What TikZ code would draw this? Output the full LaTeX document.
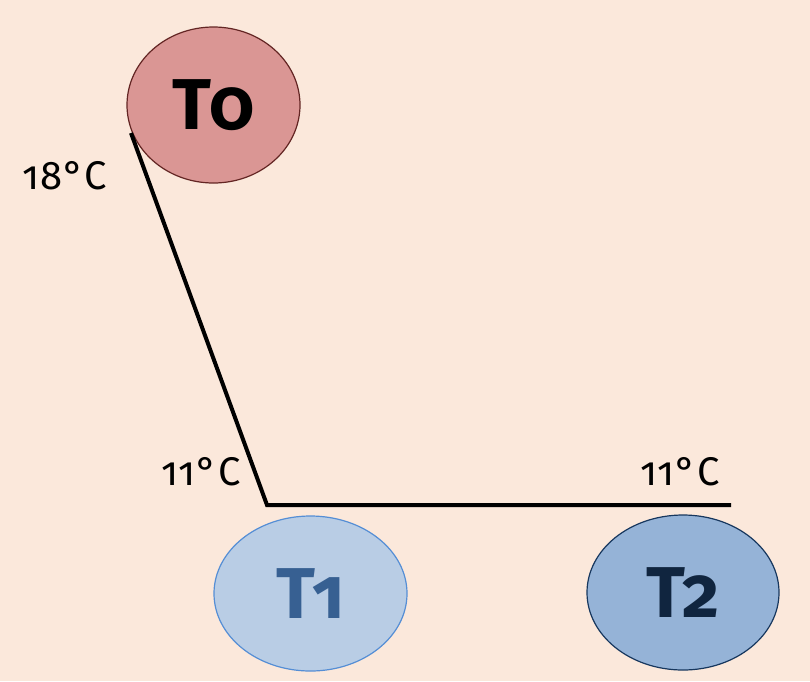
\documentclass[tikz,border=0pt]{standalone}
\usepackage{fontspec}
\setmainfont[Numbers=OldStyle]{Fira Sans}
\definecolor{bg}{HTML}{FBE8DB}
\definecolor{redfill}{HTML}{DA9694}
\definecolor{redline}{HTML}{632523}
\definecolor{lbfill}{HTML}{B9CDE5}
\definecolor{lbline}{HTML}{558ED5}
\definecolor{lbtext}{HTML}{376092}
\definecolor{dbfill}{HTML}{95B3D7}
\definecolor{dbline}{HTML}{17375E}
\definecolor{dbtext}{HTML}{10253F}
\tikzset{
  tank/.style={ellipse, inner sep=0pt, line width=1.2pt, font=\fontsize{72}{72}\selectfont\bfseries},
  temp/.style={font=\fontsize{40}{40}\selectfont\addfontfeatures{LetterSpace=2}, inner sep=0pt},
  pipe/.style={line width=4pt, line join=miter},
}
\usetikzlibrary{shapes.geometric}
\begin{document}
\begin{tikzpicture}[x=1pt,y=-1pt]
\fill[bg] (0,0) rectangle (810,681);
\useasboundingbox (0,0) rectangle (810,681);
\node[tank, draw=redline, fill=redfill, minimum width=173pt, minimum height=156pt] (t0) at (213.5,105) {T0};
\node[tank, draw=lbline, fill=lbfill, text=lbtext, minimum width=193pt, minimum height=155pt] (t1) at (310.5,593.5) {T1};
\node[tank, draw=dbline, fill=dbfill, text=dbtext, minimum width=192pt, minimum height=155pt] (t2) at (683,592.5) {T2};
\coordinate (a) at (131,133);
\coordinate (b) at (267,505);
\coordinate (c) at (731,505);
\draw[pipe] (a) -- (b) -- (c);
\node[temp] (l0) at (65,176) {18°C};
\node[temp] (l1) at (201,472) {11°C};
\node[temp] (l2) at (680,472) {11°C};
\end{tikzpicture}
\end{document}
